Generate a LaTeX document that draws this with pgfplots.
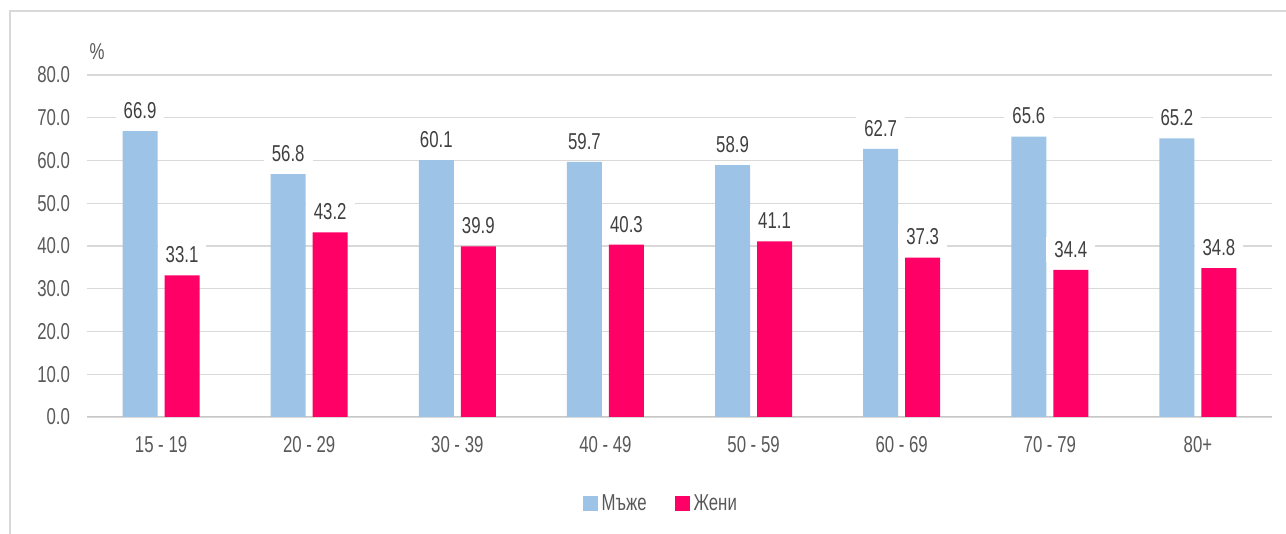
\documentclass[border=0pt]{standalone}
\usepackage{fontspec}
\setmainfont{Liberation Sans}[FakeStretch=0.73]
\usepackage{pgfplots}
\pgfplotsset{compat=1.18}
\definecolor{cblue}{HTML}{9DC3E6}
\definecolor{cpink}{HTML}{FF0066}
\definecolor{cgrid}{HTML}{D9D9D9}
\definecolor{ctick}{HTML}{595959}
\definecolor{clab}{HTML}{404040}
\newcommand{\fs}{\fontsize{11.5pt}{13pt}\selectfont}
\begin{document}
\begin{tikzpicture}
\useasboundingbox (0,0) rectangle (643pt,267pt);
\draw[cgrid, line width=0.6pt] (5pt,0pt) -- (5pt,261.5pt) -- (650pt,261.5pt);
\begin{axis}[
  at={(43.5pt,58.5pt)}, anchor=south west,
  width=592.5pt, height=171pt, scale only axis,
  xmin=-0.5, xmax=7.5, ymin=0, ymax=80,
  ybar, bar width=17.5pt,
  xtick={0,...,7},
  xticklabels={15 - 19, 20 - 29, 30 - 39, 40 - 49, 50 - 59, 60 - 69, 70 - 79, 80+},
  ytick={0,10,...,80},
  yticklabel style={/pgf/number format/fixed, /pgf/number format/fixed zerofill, /pgf/number format/precision=1, xshift=-5pt},
  /pgf/number format/assume math mode=true,
  tick label style={font=\fs, text=ctick},
  xticklabel style={yshift=-6pt},
  major tick length=0pt,
  axis line style={draw=none},
  ymajorgrids, grid style={cgrid, line width=0.6pt},
  legend style={at={(0.485,-0.254)}, anchor=center, draw=none, legend columns=2,
     font=\fs, text=ctick,
     /tikz/every even column/.append style={column sep=12pt}},
  legend image code/.code={\fill[#1] (0pt,-3.75pt) rectangle (7.5pt,3.75pt);},
  nodes near coords,
  nodes near coords style={font=\fs, text=clab, fill=white, inner xsep=4pt, inner ysep=2pt, anchor=south, yshift=4pt,
    /pgf/number format/fixed, /pgf/number format/fixed zerofill, /pgf/number format/precision=1, /pgf/number format/assume math mode=true},
]
\draw[cgrid!80!gray, line width=0.7pt] (axis cs:-0.5,0) -- (axis cs:7.5,0);
\addplot[fill=cblue, draw=none, bar shift=-10.5pt] coordinates {(0,66.9) (1,56.8) (2,60.1) (3,59.7) (4,58.9) (5,62.7) (6,65.6) (7,65.2)};
\addplot[fill=cpink, draw=none, bar shift=10.5pt] coordinates {(0,33.1) (1,43.2) (2,39.9) (3,40.3) (4,41.1) (5,37.3) (6,34.4) (7,34.8)};
\legend{Мъже, Жени}
\end{axis}
\node[font=\fs, text=ctick] at (48.5pt,241pt) {\%};
\end{tikzpicture}
\end{document}
